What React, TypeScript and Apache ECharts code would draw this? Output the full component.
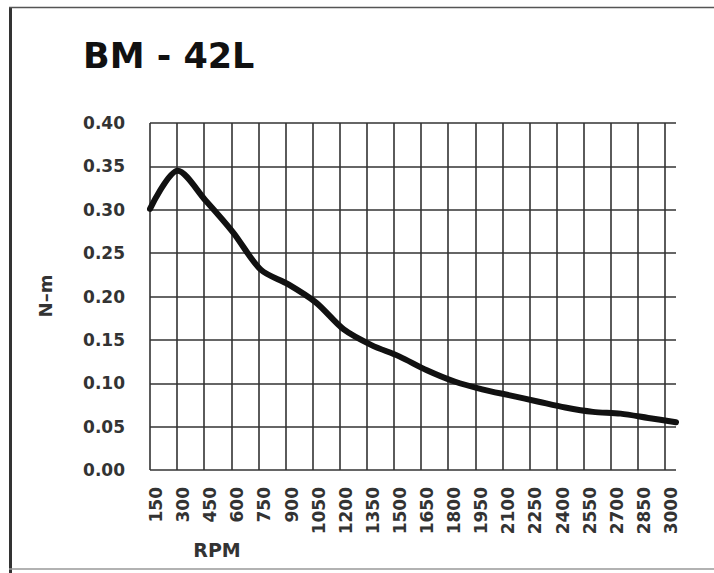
import React, { useEffect, useRef } from 'react';
import * as echarts from 'echarts';

const rpmCategories = ['150', '300', '450', '600', '750', '900', '1050', '1200', '1350', '1500', '1650', '1800', '1950', '2100', '2250', '2400', '2550', '2700', '2850', '3000'];
const torqueValues = [0.301, 0.345, 0.311, 0.274, 0.231, 0.214, 0.193, 0.162, 0.144, 0.131, 0.115, 0.102, 0.093, 0.086, 0.079, 0.072, 0.067, 0.065, 0.06, 0.055];
const yMin = 0;
const yMax = 0.4;
const yStep = 0.05;
const titleText = 'BM - 42L';
const xName = 'RPM';
const yName = 'N–m';

export default function App() {
  const ref = useRef<HTMLDivElement>(null);
  useEffect(() => {
    if (!ref.current) return;
    const chart = echarts.init(ref.current, null, { renderer: 'svg' });
    const font = 'DejaVu Sans';
    const gridColor = '#333';
    const labelStyle = { fontSize: 17, fontFamily: font, fontWeight: 'bold' as const, color: '#333' };
    chart.setOption({
      animation: false,
      backgroundColor: '#fff',
      title: {
        text: titleText,
        left: 83,
        top: 38,
        padding: 0,
        textStyle: { fontSize: 35, fontWeight: 'bold', fontFamily: font, color: '#111' },
      },
      grid: [
        { left: 150, right: 38, top: 123, bottom: 103 },
        { left: 150, right: 49, top: 123, bottom: 103 },
        { left: 156, right: 43, top: 123, bottom: 103 },
      ],
      xAxis: [
        {
          gridIndex: 0, type: 'category', data: rpmCategories, boundaryGap: false,
          axisLine: { show: false }, axisTick: { show: false }, axisLabel: { show: false }, splitLine: { show: false },
        },
        {
          gridIndex: 1, type: 'category', data: rpmCategories, boundaryGap: false,
          axisLine: { show: false }, axisTick: { show: false }, axisLabel: { show: false },
          splitLine: { show: true, interval: 0, lineStyle: { color: gridColor, width: 1.6 } },
        },
        {
          gridIndex: 2, type: 'category', data: rpmCategories, boundaryGap: false,
          axisLine: { show: false }, axisTick: { show: false }, splitLine: { show: false },
          axisLabel: { interval: 0, rotate: 90, margin: 17, ...labelStyle },
        },
      ],
      yAxis: [
        {
          gridIndex: 0, type: 'value', min: yMin, max: yMax, interval: yStep,
          axisLine: { show: false }, axisTick: { show: false },
          splitLine: { show: true, lineStyle: { color: gridColor, width: 1.6 } },
          axisLabel: { formatter: (v: number) => v.toFixed(2), margin: 25, ...labelStyle },
        },
        { gridIndex: 1, type: 'value', min: yMin, max: yMax, show: false },
        { gridIndex: 2, type: 'value', min: yMin, max: yMax, show: false },
      ],
      series: [
        {
          type: 'line', xAxisIndex: 0, yAxisIndex: 0, data: torqueValues,
          smooth: 0.3, symbol: 'none', z: 5,
          lineStyle: { color: '#111', width: 6, cap: 'round', join: 'round' },
        },
      ],
      graphic: [
        { type: 'line', shape: { x1: 10.5, y1: 7, x2: 10.5, y2: 573 }, style: { stroke: '#333', lineWidth: 3 } },
        { type: 'line', shape: { x1: 9, y1: 7.5, x2: 714, y2: 7.5 }, style: { stroke: '#555', lineWidth: 1.5 } },
        { type: 'line', shape: { x1: 9, y1: 569, x2: 714, y2: 569 }, style: { stroke: '#999', lineWidth: 1.5 } },
        {
          type: 'text', x: 217, y: 550,
          style: { text: xName, fontSize: 19, fontFamily: font, fontWeight: 'bold', fill: '#333', align: 'center', verticalAlign: 'middle' },
        },
        {
          type: 'text', x: 45, y: 296, rotation: Math.PI / 2,
          style: { text: yName, fontSize: 18, fontFamily: font, fontWeight: 'bold', fill: '#333', align: 'center', verticalAlign: 'middle' },
        },
      ],
    });
    return () => chart.dispose();
  }, []);
  return <div ref={ref} style={{ position: 'fixed', left: 0, top: 0, width: 714, height: 573 }} />;
}
